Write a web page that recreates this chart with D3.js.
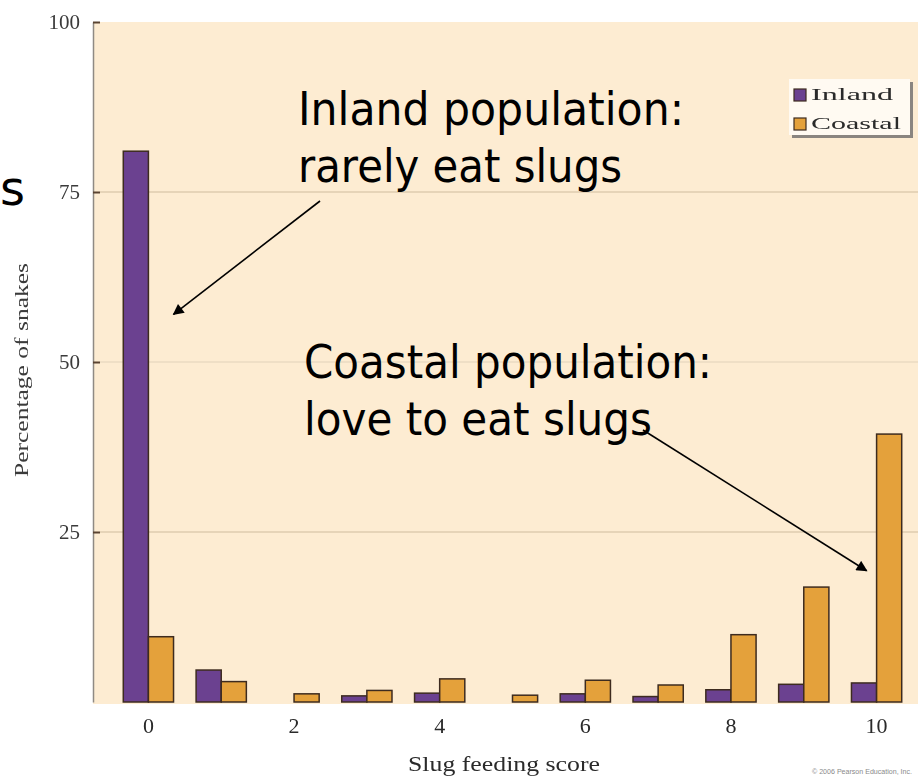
<!DOCTYPE html>
<html>
<head>
<meta charset="utf-8">
<script src="https://cdn.jsdelivr.net/npm/d3@7"></script>
<style>
  html, body { margin: 0; padding: 0; background: #ffffff; }
  svg { display: block; }
</style>
</head>
<body>
<svg id="chart" width="918" height="780"></svg>
<script>
// Slug feeding scores of garter snakes, inland vs coastal populations
const scores = [0, 1, 2, 3, 4, 5, 6, 7, 8, 9, 10];
const inland = [81, 4.7, 0, 0.9, 1.3, 0, 1.2, 0.8, 1.8, 2.6, 2.8];
const coastal = [9.6, 3.0, 1.2, 1.7, 3.4, 1.0, 3.2, 2.5, 9.9, 16.9, 39.4];
const seriesNames = ["Inland", "Coastal"];
const seriesColors = ["#6b4190", "#e4a13b"];
const yTickValues = [25, 50, 75, 100];
const xTickValues = [0, 2, 4, 6, 8, 10];

const svg = d3.select("#chart");

const plot = { left: 93, right: 918, top: 22, bottom: 702 };

const x = d3.scaleBand()
  .domain(scores)
  .range([112, 913])
  .paddingInner(0.31)
  .paddingOuter(0.155);
const xSeries = d3.scaleBand()
  .domain(seriesNames)
  .range([0, x.bandwidth()]);
const y = d3.scaleLinear().domain([0, 100]).range([plot.bottom, plot.top]);

const defs = svg.append("defs");
const soft = defs.append("filter")
  .attr("id", "soft").attr("x", "-10%").attr("y", "-10%")
  .attr("width", "120%").attr("height", "120%");
soft.append("feGaussianBlur").attr("stdDeviation", 0.55);

defs.append("marker")
  .attr("id", "arrow")
  .attr("viewBox", "0 0 10 10")
  .attr("refX", 9).attr("refY", 5)
  .attr("markerWidth", 12).attr("markerHeight", 11)
  .attr("markerUnits", "userSpaceOnUse")
  .attr("orient", "auto")
  .append("path")
  .attr("d", "M0,0 L10,5 L0,10 Z")
  .attr("fill", "#000");

// panel background
svg.append("rect")
  .attr("x", plot.left).attr("y", plot.top)
  .attr("width", plot.right - plot.left)
  .attr("height", plot.bottom - plot.top + 2)
  .attr("fill", "#fdecd2");

// horizontal gridlines
svg.append("g")
  .selectAll("line")
  .data(yTickValues.filter(v => v < 100))
  .join("line")
  .attr("x1", plot.left + 7).attr("x2", plot.right)
  .attr("y1", d => y(d)).attr("y2", d => y(d))
  .attr("stroke", d => d === 50 ? "#efdfc6" : "#e6d4b8")
  .attr("stroke-width", 2);

// bars
const rows = scores.map((s, i) => ({ score: s, values: [inland[i], coastal[i]] }));
const groups = svg.append("g")
  .selectAll("g")
  .data(rows)
  .join("g")
  .attr("transform", d => `translate(${x(d.score)},0)`);

groups.selectAll("rect")
  .data(d => d.values.map((v, k) => ({ name: seriesNames[k], value: v, color: seriesColors[k] })))
  .join("rect")
  .filter(d => d.value > 0)
  .attr("x", d => xSeries(d.name))
  .attr("y", d => y(d.value))
  .attr("width", xSeries.bandwidth())
  .attr("height", d => y(0) - y(d.value))
  .attr("fill", d => d.color)
  .attr("stroke", "#3d2b1f")
  .attr("stroke-width", 1.5);

// y axis
const yAxis = svg.append("g")
  .attr("transform", `translate(${plot.left},0)`)
  .call(d3.axisLeft(y).tickValues(yTickValues).tickSizeInner(-7).tickSizeOuter(0).tickPadding(13));
yAxis.select(".domain").attr("stroke", "#8f8a84").attr("stroke-width", 1.5);
yAxis.selectAll(".tick line").attr("stroke", "#5a4532").attr("stroke-width", 2);
yAxis.selectAll(".tick text")
  .attr("font-family", "'Liberation Serif', 'DejaVu Serif', serif")
  .attr("font-size", 21)
  .attr("fill", "#3a3a3a")
  .attr("filter", "url(#soft)");

// x axis labels
const xAxis = svg.append("g")
  .attr("transform", `translate(0,${plot.bottom})`)
  .call(d3.axisBottom(x).tickValues(xTickValues).tickSize(0).tickPadding(15));
xAxis.select(".domain").remove();
xAxis.selectAll(".tick text")
  .attr("font-family", "'Liberation Serif', 'DejaVu Serif', serif")
  .attr("font-size", 22)
  .attr("fill", "#2a2a2a")
  .attr("filter", "url(#soft)");

// axis titles
svg.append("text")
  .attr("x", 504).attr("y", 771)
  .attr("text-anchor", "middle")
  .attr("font-family", "'Liberation Serif', 'DejaVu Serif', serif")
  .attr("font-size", 21)
  .attr("fill", "#2a2a2a")
  .attr("textLength", 192).attr("lengthAdjust", "spacingAndGlyphs")
  .attr("filter", "url(#soft)")
  .text("Slug feeding score");

svg.append("text")
  .attr("transform", "translate(28,370) rotate(-90)")
  .attr("text-anchor", "middle")
  .attr("font-family", "'Liberation Serif', 'DejaVu Serif', serif")
  .attr("font-size", 18)
  .attr("fill", "#3a3a3a")
  .attr("textLength", 214).attr("lengthAdjust", "spacingAndGlyphs")
  .attr("filter", "url(#soft)")
  .text("Percentage of snakes");

// legend
const legend = svg.append("g").attr("transform", "translate(789,79)");
legend.append("rect")
  .attr("x", 3).attr("y", 3).attr("width", 121).attr("height", 56)
  .attr("fill", "#8a8580");
legend.append("rect")
  .attr("x", 0).attr("y", 0).attr("width", 121).attr("height", 56)
  .attr("fill", "#fffaf2");
const li = legend.selectAll("g.item")
  .data(seriesNames)
  .join("g")
  .attr("class", "item")
  .attr("transform", (d, i) => `translate(5,${10 + i * 29})`);
li.append("rect")
  .attr("width", 12).attr("height", 12)
  .attr("fill", (d, i) => seriesColors[i])
  .attr("stroke", "#3d2b1f").attr("stroke-width", 1.2);
li.append("text")
  .attr("x", 17).attr("y", 11)
  .attr("font-family", "'Liberation Serif', 'DejaVu Serif', serif")
  .attr("font-size", 17)
  .attr("fill", "#2a2a2a")
  .attr("textLength", (d, i) => i === 0 ? 82 : 90)
  .attr("lengthAdjust", "spacingAndGlyphs")
  .attr("filter", "url(#soft)")
  .text(d => d);

// annotations
const noteFont = "Tahoma, 'DejaVu Sans', Verdana, sans-serif";
const notes = [
  { x: 298, y: 125, lines: ["Inland population:", "rarely eat slugs"], widths: [386, 324] },
  { x: 304, y: 378, lines: ["Coastal population:", "love to eat slugs"], widths: [408, 348] }
];
notes.forEach(n => {
  n.lines.forEach((t, i) => {
    svg.append("text")
      .attr("x", n.x).attr("y", n.y + i * 57)
      .attr("font-family", noteFont)
      .attr("font-size", 46)
      .attr("fill", "#000")
      .attr("textLength", n.widths[i]).attr("lengthAdjust", "spacingAndGlyphs")
      .text(t);
  });
});

const arrows = [
  { from: [320, 201], to: [x(0) + x.bandwidth(), y(57)] },
  { from: [643, 430], to: [x(10) + x.bandwidth() / 2 - 10, y(19.3)] }
];
svg.append("g")
  .selectAll("line")
  .data(arrows)
  .join("line")
  .attr("x1", d => d.from[0]).attr("y1", d => d.from[1])
  .attr("x2", d => d.to[0]).attr("y2", d => d.to[1])
  .attr("stroke", "#000")
  .attr("stroke-width", 1.6)
  .attr("marker-end", "url(#arrow)");

// remnant of the slide heading at the left edge
svg.append("text")
  .attr("x", 25).attr("y", 205)
  .attr("text-anchor", "end")
  .attr("font-family", noteFont)
  .attr("font-size", 48)
  .attr("fill", "#000")
  .text("s");

// credit line
svg.append("text")
  .attr("x", 812).attr("y", 774)
  .attr("font-family", "'Liberation Sans', Arial, sans-serif")
  .attr("font-size", 7.5)
  .attr("fill", "#8a8a8a")
  .attr("textLength", 100).attr("lengthAdjust", "spacingAndGlyphs")
  .text("© 2006 Pearson Education, Inc.");
</script>
</body>
</html>
